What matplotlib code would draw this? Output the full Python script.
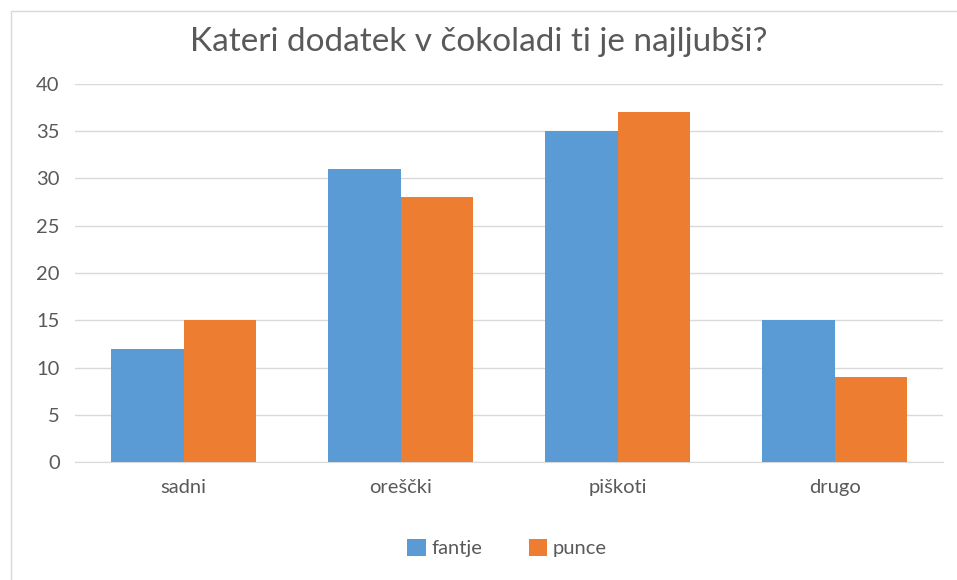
import numpy as np
import matplotlib.pyplot as plt
from matplotlib.patches import Rectangle

categories = ['sadni', 'oreščki', 'piškoti', 'drugo']
fantje = [12, 31, 35, 15]
punce = [15, 28, 37, 9]

plt.rcParams['font.family'] = ['Lato', 'DejaVu Sans']
txt = '#595959'

fig = plt.figure(figsize=(9.57, 5.8), dpi=100)
ax = fig.add_axes([0.0784, 0.2034, 0.907, 0.6518])

x = np.arange(len(categories))
w = 0.336
ax.bar(x - w / 2, fantje, w, color='#5B9BD5', label='fantje', zorder=3)
ax.bar(x + w / 2, punce, w, color='#ED7D31', label='punce', zorder=3)

ax.set_xlim(-0.5, len(categories) - 0.5)
ax.set_ylim(0, 40)
ax.set_yticks(np.arange(0, 41, 5))
ax.set_xticks(x)
ax.set_xticklabels(categories)
ax.grid(axis='y', color='#D9D9D9', linewidth=1, zorder=0)
for s in ['top', 'right', 'left']:
    ax.spines[s].set_visible(False)
ax.spines['bottom'].set_color('#D9D9D9')
ax.tick_params(axis='both', length=0, labelsize=14.5, colors=txt)
ax.tick_params(axis='x', pad=12)
ax.tick_params(axis='y', pad=11)

fig.text(0.5, 0.928, 'Kateri dodatek v čokoladi ti je najljubši?',
         ha='center', va='center', fontsize=24, color=txt)

fig.legend(loc='center', bbox_to_anchor=(0.53, 0.055), ncol=2, frameon=False,
           fontsize=14.5, handlelength=0.9, handleheight=0.9, handletextpad=0.3,
           columnspacing=2.3, labelcolor=txt)

fig.patches.append(Rectangle((11 / 957, -0.01), 1.0, 1 - 11 / 580 + 0.01,
                             transform=fig.transFigure, fill=False,
                             edgecolor='#D9D9D9', linewidth=1))

fig.savefig('out.png', dpi=100)
